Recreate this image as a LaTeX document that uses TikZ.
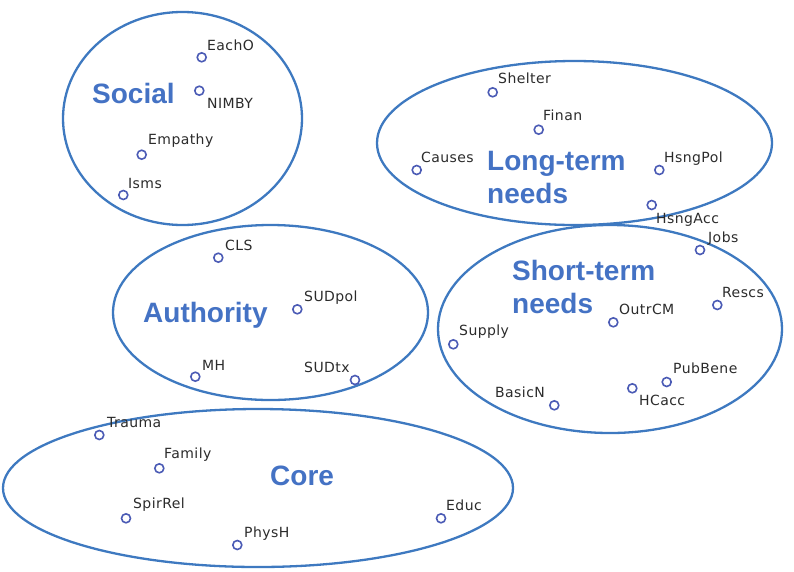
\documentclass[tikz,border=0pt]{standalone}
\usepackage{fontspec}
\usetikzlibrary{shapes.geometric}
\newfontfamily\catfont{Liberation Sans}
\newfontfamily\ptfont[LetterSpace=3]{DejaVu Sans}
\definecolor{ringblue}{HTML}{3E79C0}
\definecolor{catblue}{HTML}{4472C4}
\definecolor{ptblue}{HTML}{4B5BB5}
\definecolor{txtgray}{HTML}{2B2B2B}
\begin{document}
\begin{tikzpicture}[x=1pt,y=-1pt,
  cluster/.style={ellipse, draw=ringblue, line width=2.3pt, inner sep=0pt},
  ptmark/.style={circle, draw=ptblue, line width=1.6pt, minimum size=9pt, inner sep=0pt},
  lbl/.style={anchor=base west, inner sep=0pt, font=\ptfont\fontsize{14}{16}\selectfont, text=txtgray},
  cat/.style={anchor=base west, inner sep=0pt, font=\catfont\bfseries\fontsize{28}{33}\selectfont, text=catblue}]
\useasboundingbox (0,0) rectangle (794,571);
% clusters
\node[cluster, minimum width=239pt, minimum height=213pt] (social) at (182.5,118.5) {};
\node[cluster, minimum width=395pt, minimum height=164pt] (longterm) at (574.5,143) {};
\node[cluster, minimum width=315pt, minimum height=175pt] (authority) at (270.5,312.5) {};
\node[cluster, minimum width=344pt, minimum height=208pt] (shortterm) at (610,329) {};
\node[cluster, minimum width=510pt, minimum height=158pt] (core) at (258,488) {};
% category labels
\node[cat] (socialT) at (92,103) {Social};
\node[cat] (authorityT) at (143,322) {Authority};
\node[cat] (coreT) at (270,485) {Core};
\node[cat] (longtermT) at (487,170) {\begin{tabular}[t]{@{}l@{}}Long-term\\needs\end{tabular}};
\node[cat] (shorttermT) at (512,280) {\begin{tabular}[t]{@{}l@{}}Short-term\\needs\end{tabular}};
% points
\node[ptmark] (eacho) at (201.7,57.3) {};   \node[lbl] (eachoT) at (207,50) {EachO};
\node[ptmark] (nimby) at (199.3,90.7) {};   \node[lbl] (nimbyT) at (207,108) {NIMBY};
\node[ptmark] (empathy) at (141.7,154.7) {}; \node[lbl] (empathyT) at (148,144) {Empathy};
\node[ptmark] (isms) at (123.3,195) {};     \node[lbl] (ismsT) at (128,188) {Isms};
\node[ptmark] (shelter) at (492.7,92.3) {}; \node[lbl] (shelterT) at (498,83) {Shelter};
\node[ptmark] (finan) at (538.7,129.7) {};  \node[lbl] (finanT) at (543,120) {Finan};
\node[ptmark] (causes) at (416.7,170) {};   \node[lbl] (causesT) at (421,162) {Causes};
\node[ptmark] (hsngpol) at (659.3,170) {};  \node[lbl] (hsngpolT) at (664,162) {HsngPol};
\node[ptmark] (hsngacc) at (651.7,205) {};  \node[lbl] (hsngaccT) at (656,223) {HsngAcc};
\node[ptmark] (cls) at (218.3,257.7) {};    \node[lbl] (clsT) at (225,250) {CLS};
\node[ptmark] (sudpol) at (297.3,309.3) {}; \node[lbl] (sudpolT) at (304,301) {SUDpol};
\node[ptmark] (mh) at (195.3,376.7) {};     \node[lbl] (mhT) at (202,370) {MH};
\node[ptmark] (sudtx) at (355,380) {};      \node[lbl] (sudtxT) at (304,372) {SUDtx};
\node[ptmark] (jobs) at (700,250) {};       \node[lbl] (jobsT) at (708,242) {Jobs};
\node[ptmark] (rescs) at (717.3,305) {};    \node[lbl] (rescsT) at (722,297) {Rescs};
\node[ptmark] (outrcm) at (613.3,322.3) {}; \node[lbl] (outrcmT) at (619,314) {OutrCM};
\node[ptmark] (supply) at (453.3,344.3) {}; \node[lbl] (supplyT) at (459,335) {Supply};
\node[ptmark] (basicn) at (554.3,405.3) {}; \node[lbl] (basicnT) at (495,397) {BasicN};
\node[ptmark] (hcacc) at (632.3,388.3) {};  \node[lbl] (hcaccT) at (639,405) {HCacc};
\node[ptmark] (pubbene) at (666.7,382) {};  \node[lbl] (pubbeneT) at (673,373) {PubBene};
\node[ptmark] (trauma) at (99.3,435) {};    \node[lbl] (traumaT) at (107,427) {Trauma};
\node[ptmark] (family) at (159.3,468.3) {}; \node[lbl] (familyT) at (164,458) {Family};
\node[ptmark] (spirrel) at (126,518.3) {};  \node[lbl] (spirrelT) at (133,508) {SpirRel};
\node[ptmark] (physh) at (237.3,545) {};    \node[lbl] (physhT) at (244,537) {PhysH};
\node[ptmark] (educ) at (441,518.3) {};     \node[lbl] (educT) at (446,510) {Educ};
\end{tikzpicture}
\end{document}
